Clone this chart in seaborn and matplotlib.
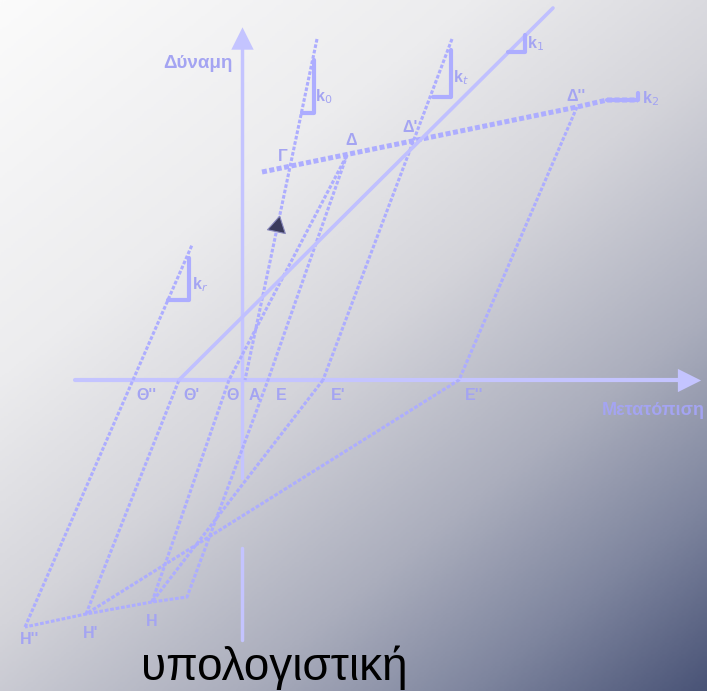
import numpy as np
import pandas as pd
import matplotlib
matplotlib.use("Agg")
import matplotlib.pyplot as plt
import seaborn as sns
from matplotlib.colors import LinearSegmentedColormap

sns.set_theme(style="white")
plt.rcParams['font.family'] = ['Liberation Sans', 'DejaVu Sans']

W, H = 707, 691

# diagram coordinates (pixel space, y downwards)
k0_x = [317, 245]
k0_y = [39, 380]
post_x = [262, 577, 607, 638]
post_y = [172, 107, 100, 100]
cyc1_x = [347, 268, 187, 152]
cyc1_y = [155, 380, 597, 602]
rel1_x = [152, 229, 347]
rel1_y = [602, 380, 155]
kt_x = [452, 323]
kt_y = [39, 380]
cyc2_x = [323, 152, 86]
cyc2_y = [380, 602, 614]
rel2_x = [86, 179]
rel2_y = [614, 380]
k1_x = [179, 553]
k1_y = [380, 8]
cyc3_x = [577, 459, 86, 25]
cyc3_y = [107, 380, 614, 627]
rel3_x = [25, 192]
rel3_y = [627, 245]

# small stiffness triangles (base corner, right angle corner, top corner)
tri_k0 = ([302, 314, 314], [113, 113, 60])
tri_kt = ([433, 451, 451], [97, 97, 50])
tri_k1 = ([508, 525, 525], [52, 52, 35])
tri_kr = ([168, 189, 189], [300, 300, 258])
tri_k2 = ([607, 638, 638], [100, 100, 93])

axis_h_x = [75, 682]
axis_h_y = [380, 380]
axis_v_x = [242, 242]
axis_v_y = [478, 44]
axis_v2_x = [242, 242]
axis_v2_y = [548, 640]

point_labels = ["Γ", "Δ", "Δ'", "Δ''", "Θ''", "Θ'", "Θ", "Α", "Ε", "Ε'", "Ε''", "Η''", "Η'", "Η"]
label_x = [283, 351, 410, 576, 146, 191, 233, 254, 281, 338, 474, 30, 91, 152]
label_y = [156, 140, 127, 96, 395, 395, 395, 395, 395, 395, 395, 640, 633, 621]

k_labels = ["k$_0$", "k$_t$", "k$_1$", "k$_r$", "k$_2$"]
k_label_x = [324, 461, 536, 200, 651]
k_label_y = [97, 78, 44, 285, 99]

line_c = "#adadff"
axis_c = "#c4c4ff"
text_c = "#a4a4f2"

fig = plt.figure(figsize=(W / 100, H / 100), dpi=100)
ax = fig.add_axes([0, 0, 1, 1])

# background gradient, white top-left to slate blue bottom-right
xx, yy = np.meshgrid(np.linspace(0, 1, 300), np.linspace(0, 1, 300))
t = 0.45 * xx + 0.55 * yy
bg = LinearSegmentedColormap.from_list("bg", [
    (0.0, "#fbfbfb"), (0.3, "#ececee"), (0.5, "#d4d4da"),
    (0.7, "#abaebd"), (0.85, "#7f869f"), (1.0, "#4a5477")])
ax.imshow(t, cmap=bg, extent=[0, W, H, 0], aspect="auto", zorder=0)


def seg(xs, ys, color=line_c, lw=2.2, ls=(0, (1.2, 0.6)), z=3):
    df = pd.DataFrame({"x": xs, "y": ys})
    sns.lineplot(data=df, x="x", y="y", sort=False, estimator=None, ax=ax,
                 color=color, linewidth=lw, linestyle=ls, zorder=z)


# axes of the diagram
seg(axis_h_x, axis_h_y, color=axis_c, lw=3, ls="-", z=2)
seg(axis_v_x, axis_v_y, color=axis_c, lw=2.5, ls="-", z=2)
seg(axis_v2_x, axis_v2_y, color=axis_c, lw=2.5, ls="-", z=2)
ax.scatter([689], [380], marker=">", s=280, color=axis_c, linewidths=0, zorder=2)
ax.scatter([242], [38], marker="^", s=260, color=axis_c, linewidths=0, zorder=2)

# force-displacement branches
seg(k0_x, k0_y)
seg(post_x, post_y, lw=3.6, ls=(0, (1.0, 0.5)))
seg(cyc1_x, cyc1_y)
seg(rel1_x, rel1_y)
seg(kt_x, kt_y)
seg(cyc2_x, cyc2_y)
seg(rel2_x, rel2_y)
seg(k1_x, k1_y, color="#c0c0ff", lw=2.6, ls="-")
seg(cyc3_x, cyc3_y)
seg(rel3_x, rel3_y)

for tx, ty in [tri_k0, tri_kt, tri_k1, tri_kr, tri_k2]:
    seg(tx, ty, color=line_c, lw=3, ls="-")

# direction arrow on the initial branch
ax.scatter([277], [226], marker=(3, 0, -12), s=230, color="#3b3b5c",
           edgecolors="#8888bb", linewidths=0.8, zorder=5)

for s, x, y in zip(point_labels, label_x, label_y):
    ax.text(x, y, s, color=text_c, fontsize=11.5, fontweight="bold",
            ha="center", va="center", zorder=4)
for s, x, y in zip(k_labels, k_label_x, k_label_y):
    ax.text(x, y, s, color=text_c, fontsize=11.5, fontweight="bold",
            ha="center", va="center", zorder=4)

ax.text(233, 63, "Δύναμη", color=text_c, fontsize=13.5, fontweight="bold",
        ha="right", va="center")
ax.text(705, 410, "Μετατόπιση", color=text_c, fontsize=13, fontweight="bold",
        ha="right", va="center")
ax.text(274, 668, "υπολογιστική", color="black", fontsize=33,
        ha="center", va="center")

ax.set_xlim(0, W)
ax.set_ylim(H, 0)
ax.axis("off")
fig.savefig("out.png", dpi=100)
